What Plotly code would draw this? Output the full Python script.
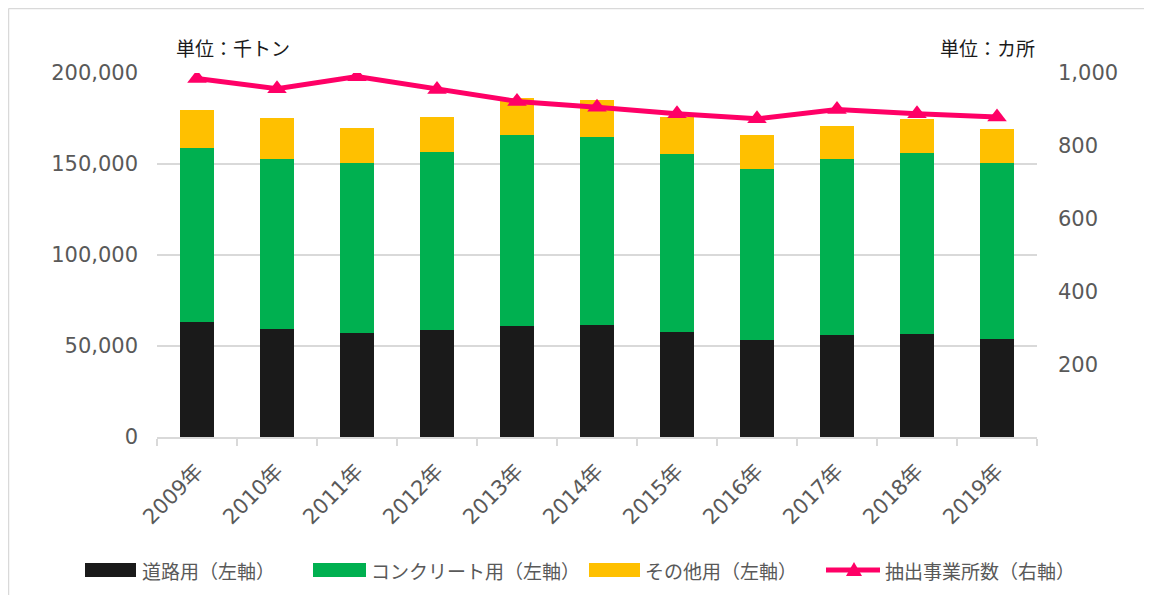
import plotly.graph_objects as go

years = ["2009年", "2010年", "2011年", "2012年", "2013年", "2014年",
         "2015年", "2016年", "2017年", "2018年", "2019年"]
road = [63100, 59400, 57400, 58700, 61100, 61300, 57800, 53400, 56300, 56700, 53700]
concrete = [95600, 93200, 93000, 98000, 104900, 103800, 97800, 93600, 96300, 99200, 97100]
other = [21100, 22800, 19500, 19200, 20000, 20000, 20100, 18700, 18200, 18700, 18300]
sites = [985, 957, 990, 955, 922, 906, 888, 874, 900, 888, 879]

series_names = ["道路用（左軸）", "コンクリート用（左軸）", "その他用（左軸）", "抽出事業所数（右軸）"]
colors = ["#1a1a1a", "#00b050", "#ffc000", "#ff0066"]

left_ticks = [0, 50000, 100000, 150000, 200000]
right_ticks = [200, 400, 600, 800, 1000]
right_ticktext = ["200", "400", "600", "800", "1,000"]

OFF = 8  # page body margin
W, H = 1152 - 2 * OFF, 603 - 2 * OFF
L = 157 - OFF
T = 73 - OFF
B = H - (437 - OFF)
R = W - (1037 - OFF)

FONT = "DejaVu Sans, Noto Sans CJK JP, sans-serif"
JFONT = "Noto Sans CJK JP, sans-serif"
GRAY = "#595959"
GRID = "#d9d9d9"

ph = H - T - B
pw = W - L - R
def py(sy):
    return (H - B - (sy - OFF)) / ph
def px(sx):
    return ((sx - OFF) - L) / pw

fig = go.Figure()
for vals, name, col in zip([road, concrete, other], series_names[:3], colors[:3]):
    fig.add_trace(go.Bar(x=years, y=vals, name=name, marker=dict(color=col, line=dict(width=0)),
                         width=0.42))
fig.add_trace(go.Scatter(x=years, y=sites, name=series_names[3], yaxis="y2",
                         mode="lines+markers",
                         line=dict(color=colors[3], width=5),
                         marker=dict(symbol="triangle-up", size=17, color=colors[3])))

fig.update_layout(
    width=W, height=H,
    margin=dict(l=L, r=R, t=T, b=B, autoexpand=False),
    barmode="stack",
    plot_bgcolor="white", paper_bgcolor="white",
    font=dict(family=FONT, color=GRAY, size=21),
    xaxis=dict(type="category", range=[-0.5, len(years) - 0.5], tickangle=-45,
               ticks="outside", tickson="boundaries",
               ticklen=7, tickcolor=GRID, tickwidth=1.5, showline=True, linecolor=GRID,
               linewidth=1.5, showgrid=False, ticklabelstandoff=12,
               tickfont=dict(size=21, color=GRAY)),
    yaxis=dict(range=[0, 200000], tickvals=left_ticks, tickformat=",", showgrid=True,
               gridcolor=GRID, gridwidth=1.5, zeroline=False, ticks="",
               ticklabelstandoff=18,
               tickfont=dict(size=21, color=GRAY), fixedrange=True),
    yaxis2=dict(range=[0, 1000], overlaying="y", side="right", tickvals=right_ticks,
                ticktext=right_ticktext, showgrid=False, zeroline=False,
                ticklabelstandoff=20,
                tickfont=dict(size=21, color=GRAY)),
    showlegend=False,
)

fig.add_annotation(text="単位：千トン", xref="paper", yref="paper", x=px(174), y=py(47),
                   xanchor="left", yanchor="middle", showarrow=False,
                   font=dict(family=JFONT, size=19, color="#1a1a1a"))
fig.add_annotation(text="単位：カ所", xref="paper", yref="paper", x=px(1037), y=py(47),
                   xanchor="right", yanchor="middle", showarrow=False,
                   font=dict(family=JFONT, size=19, color="#1a1a1a"))

# outer frame (left and top edges visible)
fig.add_shape(type="line", xref="paper", yref="paper",
              x0=px(8.5), x1=px(8.5), y0=py(8.5), y1=py(700),
              line=dict(color="#d9d9d9", width=1.5), layer="below")
fig.add_shape(type="line", xref="paper", yref="paper",
              x0=px(8.5), x1=px(1300), y0=py(8.5), y1=py(8.5),
              line=dict(color="#d9d9d9", width=1.5), layer="below")

# custom legend (wide swatches like the original)
LEG_Y = 570
swatches = [(85, 136, 140), (313, 366, 369), (589, 640, 643)]
for (x0, x1, tx), name, col in zip(swatches, series_names[:3], colors[:3]):
    fig.add_shape(type="rect", xref="paper", yref="paper",
                  x0=px(x0), x1=px(x1), y0=py(LEG_Y + 7), y1=py(LEG_Y - 7),
                  line=dict(width=0), fillcolor=col)
    fig.add_annotation(text=name, xref="paper", yref="paper", x=px(tx), y=py(LEG_Y),
                       xanchor="left", yanchor="middle", showarrow=False,
                       font=dict(family=JFONT, size=19, color=GRAY))
fig.add_shape(type="line", xref="paper", yref="paper",
              x0=px(826), x1=px(880), y0=py(LEG_Y), y1=py(LEG_Y),
              line=dict(color=colors[3], width=5))
tri = "M {a},{b} L {c},{d} L {e},{f} Z".format(
    a=px(846), b=py(LEG_Y + 6), c=px(862), d=py(LEG_Y + 6), e=px(854), f=py(LEG_Y - 8))
fig.add_shape(type="path", xref="paper", yref="paper", path=tri,
              line=dict(width=0), fillcolor=colors[3])
fig.add_annotation(text=series_names[3], xref="paper", yref="paper", x=px(883), y=py(LEG_Y),
                   xanchor="left", yanchor="middle", showarrow=False,
                   font=dict(family=JFONT, size=19, color=GRAY))

fig.write_html("out.html")
